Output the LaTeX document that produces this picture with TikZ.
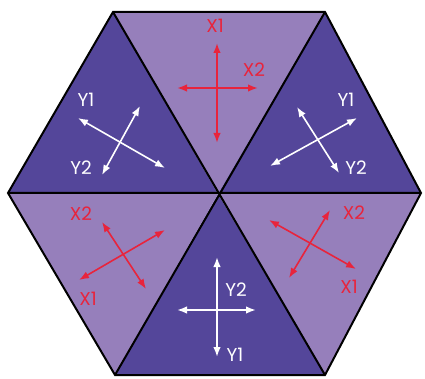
\documentclass[tikz,border=0pt]{standalone}
\usepackage{fontspec}
\setmainfont{Poppins}
\usepackage{xcolor}
\usepackage{tikz}
\usetikzlibrary{arrows.meta}

\definecolor{darkpurple}{HTML}{54469A}
\definecolor{lightpurple}{HTML}{967FBB}
\definecolor{axisred}{HTML}{E8243C}

\begin{document}
\begin{tikzpicture}[x=1pt, y=-1pt,
  axis/.style={line width=1.6pt, {Latex[length=10pt,width=7.5pt]}-{Latex[length=10pt,width=7.5pt]}},
  lbl/.style={font=\fontsize{18.5}{18.5}\selectfont, inner sep=0pt}]
\useasboundingbox (0,0) rectangle (425,379);
% hexagon corners
\coordinate (O) at (218,194);
\coordinate (TL) at (113,12);
\coordinate (TR) at (325,12);
\coordinate (R) at (421,193);
\coordinate (BR) at (325,375);
\coordinate (BL) at (115,375);
\coordinate (L) at (8,193);
\fill[lightpurple] (TL) -- (TR) -- (O) -- cycle;
\fill[darkpurple] (TR) -- (R) -- (O) -- cycle;
\fill[lightpurple] (R) -- (BR) -- (O) -- cycle;
\fill[darkpurple] (BR) -- (BL) -- (O) -- cycle;
\fill[lightpurple] (BL) -- (L) -- (O) -- cycle;
\fill[darkpurple] (L) -- (TL) -- (O) -- cycle;
\draw[line width=2pt, line join=miter] (TL) -- (TR) -- (R) -- (BR) -- (BL) -- (L) -- cycle;
\draw[line width=2pt] (TL) -- (BR) (TR) -- (BL) (L) -- (R);
% top
\coordinate (t1a) at (217,43);  \coordinate (t1b) at (217,143);
\coordinate (t2a) at (177,88);  \coordinate (t2b) at (258,88);
\draw[axis, axisred] (t1a) -- (t1b);
\draw[axis, axisred] (t2a) -- (t2b);
\node[lbl, text=axisred] (tx1) at (215,26) {X1};
\node[lbl, text=axisred] (tx2) at (254,70) {X2};
% upper left
\coordinate (ul1a) at (140,106); \coordinate (ul1b) at (102,175);
\coordinate (ul2a) at (78,118);  \coordinate (ul2b) at (165,168);
\draw[axis, white] (ul1a) -- (ul1b);
\draw[axis, white] (ul2a) -- (ul2b);
\node[lbl, text=white] (uly1) at (86,100) {Y1};
\node[lbl, text=white] (uly2) at (81,168) {Y2};
% upper right
\coordinate (ur1a) at (270,166); \coordinate (ur1b) at (357,118);
\coordinate (ur2a) at (297,107); \coordinate (ur2b) at (339,173);
\draw[axis, white] (ur1a) -- (ur1b);
\draw[axis, white] (ur2a) -- (ur2b);
\node[lbl, text=white] (ury1) at (346,100) {Y1};
\node[lbl, text=white] (ury2) at (356,168) {Y2};
% lower left
\coordinate (ll1a) at (79,280);  \coordinate (ll1b) at (165,230);
\coordinate (ll2a) at (102,222); \coordinate (ll2b) at (146,289);
\draw[axis, axisred] (ll1a) -- (ll1b);
\draw[axis, axisred] (ll2a) -- (ll2b);
\node[lbl, text=axisred] (llx2) at (81,214) {X2};
\node[lbl, text=axisred] (llx1) at (88,299) {X1};
% lower right
\coordinate (lr1a) at (269,220); \coordinate (lr1b) at (356,269);
\coordinate (lr2a) at (289,278); \coordinate (lr2b) at (330,210);
\draw[axis, axisred] (lr1a) -- (lr1b);
\draw[axis, axisred] (lr2a) -- (lr2b);
\node[lbl, text=axisred] (lrx2) at (354,213) {X2};
\node[lbl, text=axisred] (lrx1) at (349,287) {X1};
% bottom
\coordinate (b1a) at (217,257); \coordinate (b1b) at (217,357);
\coordinate (b2a) at (177,310); \coordinate (b2b) at (256,310);
\draw[axis, white] (b1a) -- (b1b);
\draw[axis, white] (b2a) -- (b2b);
\node[lbl, text=white] (by2) at (236,290) {Y2};
\node[lbl, text=white] (by1) at (235,355) {Y1};
\end{tikzpicture}
\end{document}
